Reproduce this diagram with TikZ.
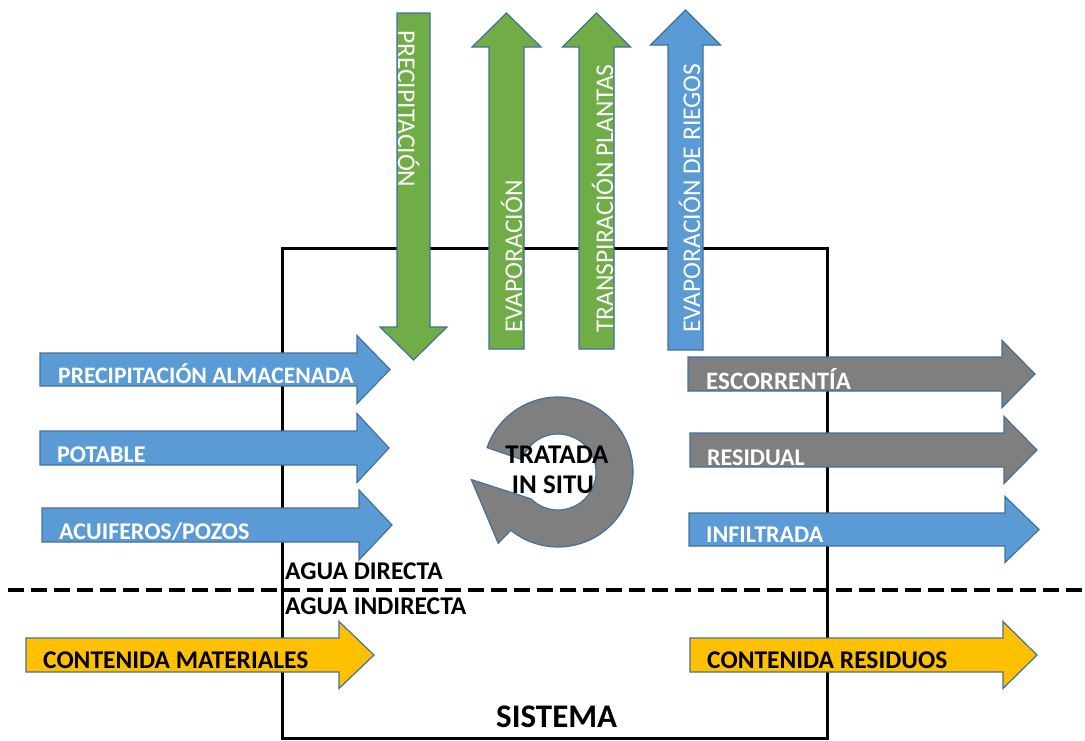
\documentclass[tikz,border=0pt]{standalone}
\usepackage{fontspec}
\setmainfont{Carlito}
\definecolor{oblue}{HTML}{5B9BD5}
\definecolor{ogreen}{HTML}{70AD47}
\definecolor{ogray}{HTML}{7F7F7F}
\definecolor{ogold}{HTML}{FFC000}
\definecolor{oline}{HTML}{41719C}
% right-pointing block arrow: x start, x head base, x tip, y centre, half shaft, half head, style
\newcommand{\blockright}[7]{%
  \draw[flow,#7] (#1,#4-#5) -- (#2,#4-#5) -- (#2,#4-#6) -- (#3,#4)
    -- (#2,#4+#6) -- (#2,#4+#5) -- (#1,#4+#5) -- cycle;}
% vertical block arrow: x centre, half shaft, half head, y tail, y head base, y tip, style
\newcommand{\blockvert}[7]{%
  \draw[flow,#7] (#1-#2,#4) -- (#1-#2,#5) -- (#1-#3,#5) -- (#1,#6)
    -- (#1+#3,#5) -- (#1+#2,#5) -- (#1+#2,#4) -- cycle;}
\begin{document}
\begin{tikzpicture}[x=1pt,y=-1pt,
  flow/.style={draw=oline,line width=1.2pt,line join=miter},
  hlabel/.style={anchor=base west,inner sep=0pt,text=white,
    font=\fontsize{24}{28}\selectfont\bfseries},
  vlabel/.style={anchor=base west,inner sep=0pt,text=white,
    font=\fontsize{25.5}{30}\selectfont},
  blabel/.style={anchor=base west,inner sep=0pt,text=black,
    font=\fontsize{25.5}{30}\selectfont\bfseries},
  ringtext/.style={anchor=base,inner sep=0pt,text=black,
    font=\fontsize{27}{32}\selectfont\bfseries}]
\useasboundingbox (0,0) rectangle (1085,740);

% system boundary
\node[draw,line width=3pt,minimum width=545pt,minimum height=490pt,
  inner sep=0pt,anchor=north west] (sistema) at (281,247) {};

% direct / indirect water divider
\draw[line width=4pt,dash pattern=on 16pt off 7pt] (8,590) -- (1085,590);

% vertical flows
\blockvert{413.5}{16.5}{33.5}{13}{327}{360}{fill=ogreen}
\blockvert{506.5}{17.5}{34.5}{349}{47}{13}{fill=ogreen}
\blockvert{596.5}{17.5}{34}{349}{47}{13}{fill=ogreen}
\blockvert{685.5}{17.5}{35}{350}{45}{10}{fill=oblue}

% inflows
\blockright{40}{357}{390}{369.5}{16.5}{34}{fill=oblue}
\blockright{40}{357}{389}{448}{17}{34.5}{fill=oblue}
\blockright{42}{359}{392}{525}{17}{35}{fill=oblue}
\blockright{26}{339}{374}{655}{17}{33.5}{fill=ogold}

% outflows
\blockright{688}{1002}{1035}{374}{17}{33.5}{fill=ogray}
\blockright{690}{1004}{1037}{450}{17}{33.5}{fill=ogray}
\blockright{689}{1005}{1039}{529.5}{16.5}{33}{fill=oblue}
\blockright{690}{1003}{1037}{655}{17}{33.5}{fill=ogold}

% recycling loop
\begin{scope}[shift={(558,472)},yscale=-1]
  \draw[fill=ogray,draw=oline,line width=1.2pt,line join=miter]
    (161:75) arc[start angle=161,end angle=-129,radius=75]
    -- (-130:93) -- (-175:87) -- (-135:38)
    arc[start angle=-135,end angle=161,radius=38] -- cycle;
\end{scope}

% labels on the vertical flows
\node[vlabel,rotate=-90] (prec) at (398,30) {PRECIPITACIÓN};
\node[vlabel,rotate=90] (evap) at (522,333) {EVAPORACIÓN};
\node[vlabel,rotate=90] (transp) at (613,333) {TRANSPIRACIÓN PLANTAS};
\node[vlabel,rotate=90] (riegos) at (700,333) {EVAPORACIÓN DE RIEGOS};

% labels on the horizontal flows
\node[hlabel,font=\fontsize{23.6}{28}\selectfont\bfseries] (palm) at (58,383) {PRECIPITACIÓN ALMACENADA};
\node[hlabel] (pot) at (57,462) {POTABLE};
\node[hlabel] (acu) at (59,539) {ACUIFEROS/POZOS};
\node[hlabel,font=\fontsize{25}{28}\selectfont\bfseries] (esc) at (706,389) {ESCORRENTÍA};
\node[hlabel] (res) at (707,465) {RESIDUAL};
\node[hlabel] (inf) at (706,542) {INFILTRADA};
\node[blabel] (cmat) at (43,668) {CONTENIDA MATERIALES};
\node[blabel] (cres) at (707,668) {CONTENIDA RESIDUOS};

% other texts
\node[ringtext] (trat) at (557,463) {TRATADA};
\node[ringtext] (situ) at (553,493) {IN SITU};
\node[blabel] (adir) at (285,579) {AGUA DIRECTA};
\node[blabel] (aind) at (285,614) {AGUA INDIRECTA};
\node[anchor=base west,inner sep=0pt,font=\fontsize{33}{38}\selectfont\bfseries]
  (sis) at (496,727) {SISTEMA};
\end{tikzpicture}
\end{document}
